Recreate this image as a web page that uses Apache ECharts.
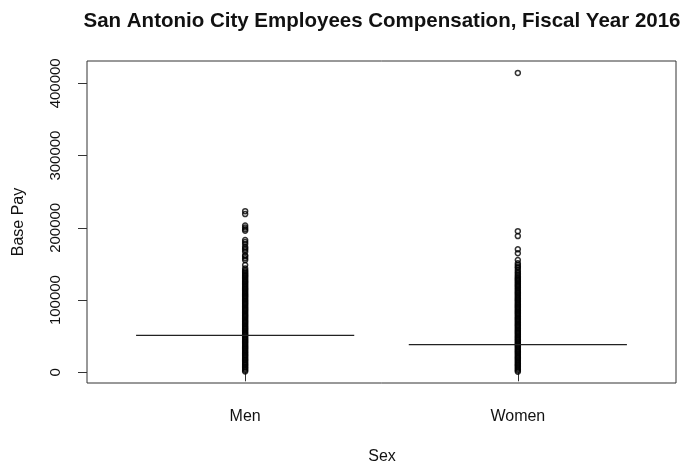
<!DOCTYPE html>
<html>
<head>
<meta charset="utf-8">
<title>San Antonio City Employees Compensation, Fiscal Year 2016</title>
<script src="https://cdn.jsdelivr.net/npm/echarts@6/dist/echarts.min.js"></script>
<style>
  html, body { margin: 0; padding: 0; background: #fff; }
  #chart { width: 682px; height: 464px; }
</style>
</head>
<body>
<div id="chart"></div>
<script>
// Groups on the x axis
const categories = ['Men', 'Women'];

// Median base pay per group
const medians = [51200, 38200];

// Individual base pay values (USD) per group
const menPay = [
  1200, 2900, 4500, 6300, 7800, 9600, 11200, 12900, 14500, 16300,
  17800, 19500, 21200, 22900, 24400, 26200, 27800, 29500, 31100, 32800,
  34500, 36100, 37800, 39400, 41200, 42800, 44500, 46100, 47800, 49400,
  51200, 52800, 54500, 56100, 57800, 59500, 61100, 62800, 64400, 66100,
  67800, 69500, 71100, 72800, 74400, 76100, 77800, 79400, 81100, 82800,
  84500, 86100, 87800, 89400, 91100, 92800, 94500, 96100, 97800, 99400,
  101100, 102800, 104500, 106100, 107800, 109400, 111200, 112800, 114500, 116100,
  117800, 119400, 121100, 122800, 124500, 126100, 127800, 129500, 131200, 132800,
  134500, 136100, 137900, 139600, 141300, 143800,
  148400, 155300, 157800, 160500, 162000, 166800, 169500, 171800, 173700,
  177500, 180200, 183000, 195900, 198000, 200500, 203300, 219000, 223100
];
const womenPay = [
  900, 2600, 4300, 5900, 7600, 9300, 10900, 12600, 14300, 15900,
  17600, 19300, 20900, 22600, 24300, 25900, 27600, 29300, 30900, 32600,
  34300, 35900, 37600, 39300, 40900, 42600, 44300, 45900, 47600, 49300,
  50900, 52600, 54300, 55900, 57600, 59300, 60900, 62600, 64300, 65900,
  67600, 69300, 70900, 72600, 74300, 75900, 77600, 79300, 80900, 82600,
  84300, 85900, 87600, 89300, 90900, 92600, 94300, 95900, 97600, 99300,
  100900, 102600, 104300, 105900, 107600, 109300, 110900, 112600, 114300, 115900,
  117600, 119300, 120900, 122600, 124300, 125900, 127600, 129300, 131000, 132800,
  134900, 137200, 139100, 141500, 144300, 146200, 148400, 151000, 155300,
  164700, 170200, 188500, 195400, 414400
];

// Axis tick values
const yTicks = [0, 100000, 200000, 300000, 400000];
const xTicks = [1, 2];

const FONT = '"Liberation Sans", Arial, Helvetica, sans-serif';
const INK = '#111';

const chart = echarts.init(document.getElementById('chart'), null, { renderer: 'canvas' });

// Hollow circles, one per employee
const pointSeries = (values, pos) => ({
  type: 'scatter',
  data: values.map(v => [pos, v]),
  symbol: 'circle',
  symbolSize: 5,
  itemStyle: { color: 'rgba(0,0,0,0)', borderColor: '#000', borderWidth: 1.5 },
  silent: true,
  z: 3
});

chart.setOption({
  animation: false,
  backgroundColor: '#fff',
  grid: {
    left: 87, right: 6, top: 61, bottom: 81,
    show: true, borderColor: '#333', borderWidth: 1,
    backgroundColor: 'transparent'
  },
  xAxis: {
    type: 'value',
    min: 0.42, max: 2.58,
    splitLine: { show: false },
    axisLine: { show: false },
    axisTick: {
      show: true, inside: false, length: 9, customValues: xTicks,
      lineStyle: { color: '#333', width: 1 }
    },
    axisLabel: {
      customValues: xTicks,
      formatter: v => categories[Math.round(v) - 1],
      fontFamily: FONT, fontSize: 16, color: INK, margin: 26
    }
  },
  yAxis: {
    type: 'value',
    min: -14800, max: 430900,
    splitLine: { show: false },
    axisLine: { show: false },
    axisTick: {
      show: true, inside: false, length: 9, customValues: yTicks,
      lineStyle: { color: '#333', width: 1 }
    },
    axisLabel: {
      customValues: yTicks,
      rotate: 90,
      formatter: v => String(v),
      fontFamily: FONT, fontSize: 15, color: INK, margin: 24
    }
  },
  graphic: [
    {
      type: 'text', x: 382, y: 21,
      style: {
        text: 'San Antonio City Employees Compensation, Fiscal Year 2016',
        font: 'bold 20.5px ' + FONT, fill: INK, align: 'center', verticalAlign: 'middle'
      }
    },
    {
      type: 'text', x: 382, y: 457,
      style: { text: 'Sex', font: '16px ' + FONT, fill: INK, align: 'center', verticalAlign: 'middle' }
    },
    {
      type: 'text', x: 19, y: 222, rotation: Math.PI / 2,
      style: { text: 'Base Pay', font: '16px ' + FONT, fill: INK, align: 'center', verticalAlign: 'middle' }
    }
  ],
  series: [
    pointSeries(menPay, 1),
    pointSeries(womenPay, 2),
    {
      type: 'custom',
      data: medians.map((m, i) => [xTicks[i], m]),
      encode: { x: 0, y: 1 },
      silent: true,
      z: 4,
      renderItem: (params, api) => {
        const x = api.value(0);
        const m = api.value(1);
        const a = api.coord([x - 0.4, m]);
        const b = api.coord([x + 0.4, m]);
        return {
          type: 'line',
          shape: { x1: a[0], y1: a[1], x2: b[0], y2: b[1] },
          style: { stroke: '#222', lineWidth: 1.2 }
        };
      }
    }
  ]
});
</script>
</body>
</html>
